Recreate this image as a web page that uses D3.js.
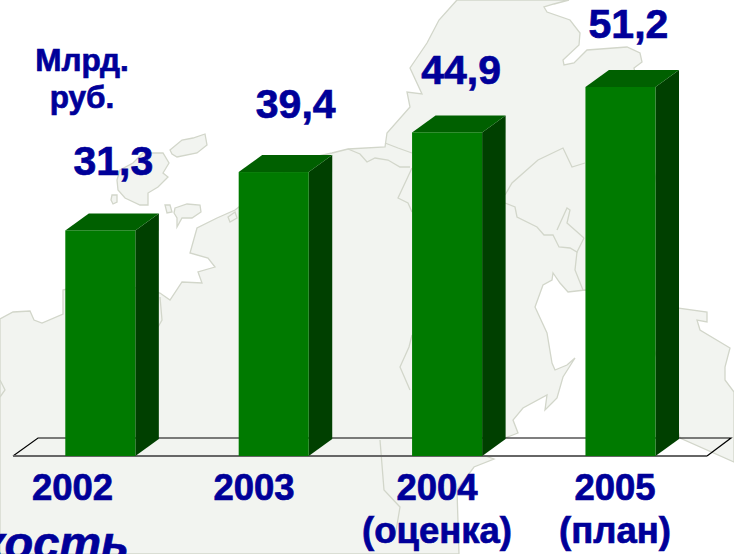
<!DOCTYPE html>
<html>
<head>
<meta charset="utf-8">
<script src="https://d3js.org/d3.v7.min.js"></script>
<style>
    body { margin: 0; background: white; overflow: hidden; }
    text { font-family: "Liberation Sans", Arial, sans-serif; font-weight: bold; fill: #000099; stroke: #000099; stroke-width: 0.7px; }
</style>
</head>
<body>
<div id="chart"></div>
<script>
const width = 734;
const height = 554;

const years = ["2002", "2003", "2004", "2005"];
const values = [31.3, 39.4, 44.9, 51.2];
const valueLabels = ["31,3", "39,4", "44,9", "51,2"];
const yearNotes = ["", "", "(оценка)", "(план)"];

// hand placed labels, the source slide does not centre them on the bars
const valueShift = [13, 22, 14, 8];
const valueGap = [55, 54, 48, 49];
const yearCenter = [72.5, 254, 437, 615];

const depthX = 23.5;
const depthY = 17;
const baseY = 456;

// background map, traced by eye
const land = [[0,554],[0,319],[13,312],[30,311],[34,320],[42,323],[63,314],[63,290],[100,280],[160,293],[170,300],[182,282],[202,283],[198,272],[215,267],[208,258],[190,253],[197,228],[217,218],[235,210],[300,160],[332,153],[348,149],[385,147],[387,133],[410,107],[407,92],[422,94],[410,68],[427,43],[439,20],[457,0],[569,0],[554,4],[544,7],[547,12],[570,20],[580,33],[579,45],[563,60],[564,65],[574,63],[587,50],[627,47],[640,53],[642,62],[634,68],[660,200],[677,308],[707,312],[707,322],[697,320],[700,330],[730,348],[725,367],[725,380],[734,392],[734,462],[680,438],[640,300],[585,290],[568,292],[560,283],[553,273],[552,280],[543,285],[535,307],[547,333],[552,363],[555,370],[567,365],[575,358],[563,377],[557,398],[552,403],[545,410],[547,395],[523,408],[513,420],[518,433],[505,438],[483,455],[494,459],[474,467],[457,490],[459,554]];
const islands = [
    [[170,150],[182,140],[193,138],[205,134],[207,145],[197,153],[177,157],[172,154]],
    [[117,180],[120,170],[133,163],[143,153],[163,153],[169,163],[163,173],[168,177],[158,187],[148,193],[148,205],[140,205],[125,198],[118,190]],
    [[112,195],[117,195],[117,202],[113,204],[111,200]],
    [[175,208],[187,204],[200,205],[201,212],[192,218],[182,218],[177,227],[177,218],[174,213]],
    [[165,205],[170,205],[172,212],[167,213]],
    [[228,217],[235,212],[237,218],[230,222]]
];
const borders = [
    [[348,149],[360,154],[367,162],[375,158],[388,160],[400,167],[410,167]],
    [[385,143],[398,148],[412,153]],
    [[412,168],[405,183],[398,198],[408,203],[412,212]],
    [[505,195],[512,183],[538,160],[563,148],[572,167],[585,163]],
    [[505,203],[515,207],[517,217],[537,227],[544,235],[553,235],[559,247],[570,248],[577,252],[584,238]],
    [[557,230],[567,208],[570,210],[567,223],[584,238]],
    [[577,252],[575,270],[583,290]],
    [[160,297],[162,320],[158,327]],
    [[0,380],[5,390],[0,397]],
    [[412,335],[409,347],[400,367],[410,390]],
    [[380,440],[384,490],[400,507],[395,537]]
];

const svg = d3.select("#chart")
    .append("svg")
    .attr("width", width)
    .attr("height", height);

drawMap();
drawFloor();
drawBars();
drawLabels();

function drawMap() {
    const g = svg.append("g").style("filter", "blur(0.5px)");
    const path = d3.line();

    g.append("path")
        .attr("d", path(land) + "Z")
        .attr("fill", "#f2f4f0")
        .attr("stroke", "#d2d6ca")
        .attr("stroke-width", 1.3);

    g.selectAll(".island")
        .data(islands)
        .enter()
        .append("path")
        .attr("class", "island")
        .attr("d", d => path(d) + "Z")
        .attr("fill", "#f2f4f0")
        .attr("stroke", "#d2d6ca")
        .attr("stroke-width", 1.3);

    g.selectAll(".border")
        .data(borders)
        .enter()
        .append("path")
        .attr("class", "border")
        .attr("d", path)
        .attr("fill", "none")
        .attr("stroke", "#d2d6ca")
        .attr("stroke-width", 1.3);
}

function drawFloor() {
    const left = 13;
    const right = 707;

    svg.append("path")
        .attr("d", `M${left},${baseY}L${left + 25},${baseY - 18}H${right + 24}L${right},${baseY}`)
        .attr("fill", "none")
        .attr("stroke", "black")
        .attr("stroke-width", 1.2);

    svg.append("line")
        .attr("x1", left)
        .attr("x2", right)
        .attr("y1", baseY)
        .attr("y2", baseY)
        .attr("stroke", "#666")
        .attr("stroke-width", 2);
}

function drawBars() {
    const xScale = d3.scaleBand()
        .domain(years)
        .range([65.3, 655.5])
        .paddingInner(0.596)
        .paddingOuter(0);

    const yScale = d3.scaleLinear()
        .domain([0, d3.max(values)])
        .range([baseY, 87]);

    const bar = svg.selectAll(".bar")
        .data(years)
        .enter()
        .append("g")
        .attr("class", "bar");

    bar.append("path")
        .attr("d", (d, i) => {
            const x = xScale(d) + xScale.bandwidth();
            const y = yScale(values[i]);
            return `M${x},${y}l${depthX},${-depthY}V${baseY - depthY}L${x},${baseY}Z`;
        })
        .attr("fill", "#004000");

    bar.append("path")
        .attr("d", (d, i) => {
            const x = xScale(d);
            const y = yScale(values[i]);
            return `M${x},${y}l${depthX},${-depthY}h${xScale.bandwidth()}l${-depthX},${depthY}Z`;
        })
        .attr("fill", "#006000");

    bar.append("rect")
        .attr("x", d => xScale(d))
        .attr("y", (d, i) => yScale(values[i]))
        .attr("width", xScale.bandwidth())
        .attr("height", (d, i) => baseY - yScale(values[i]))
        .attr("fill", "#007a00");

    // value labels sit above the bars
    svg.selectAll(".value")
        .data(years)
        .enter()
        .append("text")
        .attr("class", "value")
        .attr("x", (d, i) => xScale(d) + xScale.bandwidth() / 2 + valueShift[i])
        .attr("y", (d, i) => yScale(values[i]) - valueGap[i])
        .attr("text-anchor", "middle")
        .style("font-size", "41px")
        .text((d, i) => valueLabels[i]);
}

function drawLabels() {
    svg.selectAll(".year")
        .data(years)
        .enter()
        .append("text")
        .attr("class", "year")
        .attr("x", (d, i) => yearCenter[i])
        .attr("y", 500)
        .attr("text-anchor", "middle")
        .style("font-size", "36.5px")
        .text(d => d);

    svg.selectAll(".note")
        .data(yearNotes)
        .enter()
        .append("text")
        .attr("class", "note")
        .attr("x", (d, i) => yearCenter[i])
        .attr("y", 543)
        .attr("text-anchor", "middle")
        .style("font-size", "36.5px")
        .text(d => d);

    svg.append("text")
        .attr("x", 82)
        .attr("y", 71)
        .attr("text-anchor", "middle")
        .style("font-size", "31.5px")
        .text("Млрд.");

    svg.append("text")
        .attr("x", 82)
        .attr("y", 108)
        .attr("text-anchor", "middle")
        .style("font-size", "31.5px")
        .text("руб.");

    // cut off by the bottom edge, as in the source slide
    svg.append("text")
        .attr("x", 129)
        .attr("y", 559)
        .attr("text-anchor", "end")
        .style("font-size", "47px")
        .style("font-style", "italic")
        .text("кость");
}
</script>
</body>
</html>
